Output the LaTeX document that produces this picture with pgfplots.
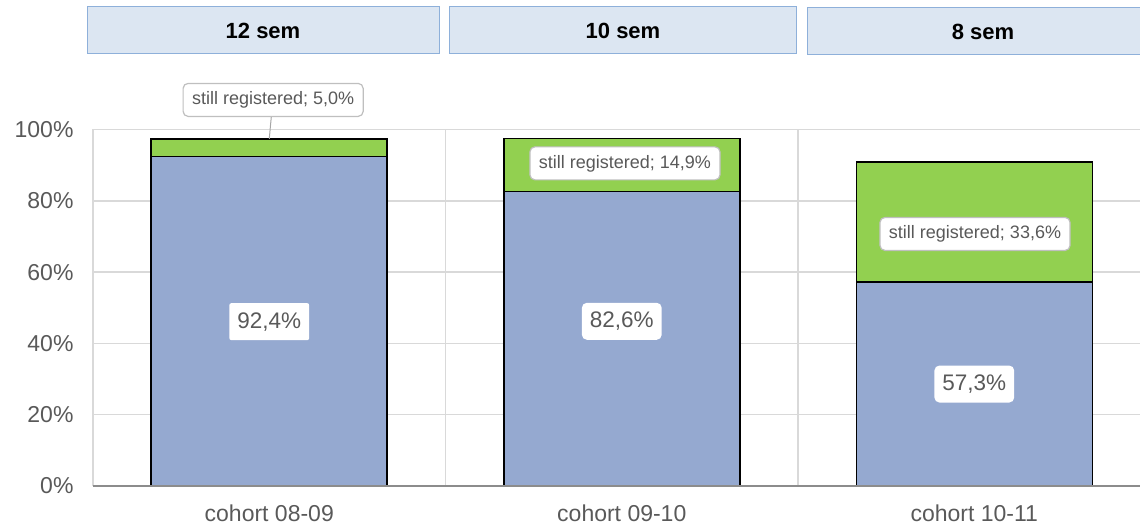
\documentclass[border=0pt]{standalone}
\usepackage{pgfplots}
\pgfplotsset{compat=1.18}
\usepackage{fontspec}
\setmainfont{Liberation Sans}
\definecolor{barblue}{HTML}{95A9D0}
\definecolor{bargreen}{HTML}{92D050}
\definecolor{hdrfill}{HTML}{DCE6F2}
\definecolor{hdrdraw}{HTML}{8EB0DA}
\definecolor{txtgray}{HTML}{595959}
\definecolor{gridgray}{HTML}{D9D9D9}
\definecolor{lblborder}{HTML}{BFBFBF}
\tikzset{vlab/.style={fill=white, rounded corners=5pt, text=txtgray, font=\fontsize{22.5}{26}\selectfont, inner xsep=8pt, minimum height=37pt},
  slab/.style={fill=white, draw=lblborder, rounded corners=5pt, line width=1.2pt, text=txtgray, font=\fontsize{18}{20}\selectfont, inner xsep=9pt, minimum height=33pt}}
\begin{document}
\begin{tikzpicture}
\begin{axis}[name=ax, scale only axis, width=1047pt, height=356.5pt,
  xmin=-0.5, xmax=2.47, ymin=0, ymax=100,
  ybar stacked, bar width=236pt,
  xtick={0,1,2}, xticklabels={cohort 08-09, cohort 09-10, cohort 10-11},
  minor xtick={-0.5,0.5,1.5}, xminorgrids,
  minor x grid style={gridgray, line width=1.5pt},
  ytick={0,20,...,100}, ymajorgrids,
  major y grid style={gridgray, line width=1.5pt},
  yticklabel={\pgfmathprintnumber{\tick}\%},
  axis line style={draw=none},
  major tick length=0pt, minor tick length=0pt,
  tick label style={font=\fontsize{23}{26}\selectfont, text=txtgray},
  yticklabel style={xshift=-16pt},
  xticklabel style={yshift=-15pt},
  /pgf/number format/assume math mode=true,
  clip=false,
]
\addplot[fill=barblue, draw=black, line width=1.6pt] coordinates {(0,92.4) (1,82.6) (2,57.3)};
\addplot[fill=bargreen, draw=black, line width=1.6pt] coordinates {(0,5.0) (1,14.9) (2,33.6)};
\coordinate (v1) at (axis cs:0,46.1);
\coordinate (v2) at (axis cs:1,46.2);
\coordinate (v3) at (axis cs:2,28.6);
\coordinate (s1) at (axis cs:0.011,108.3);
\coordinate (s2) at (axis cs:1.009,90.5);
\coordinate (s3) at (axis cs:2.002,70.7);
\coordinate (l1a) at (axis cs:0,97.4);
\coordinate (l1b) at (axis cs:0.006,103.8);
\coordinate (b0) at (axis cs:-0.5,0);
\coordinate (b1) at (axis cs:2.47,0);
\end{axis}
\draw[color=black!45, line width=1.5pt] (b0) -- (b1);
% value labels
\node[vlab, rounded corners=2pt] at (v1) {92,4\%};
\node[vlab] at (v2) {82,6\%};
\node[vlab] at (v3) {57,3\%};
% still registered labels
\draw[color=black!35, line width=1pt] (l1a) -- (l1b);
\node[slab] at (s1) {still registered; 5,0\%};
\node[slab] at (s2) {still registered; 14,9\%};
\node[slab] at (s3) {still registered; 33,6\%};
% header boxes
\draw[fill=hdrfill, draw=hdrdraw, line width=1pt] ([shift={(-6pt,75.5pt)}]ax.north west) rectangle ([shift={(346pt,122.5pt)}]ax.north west);
\draw[fill=hdrfill, draw=hdrdraw, line width=1pt] ([shift={(356pt,75.5pt)}]ax.north west) rectangle ([shift={(703pt,122.5pt)}]ax.north west);
\draw[fill=hdrfill, draw=hdrdraw, line width=1pt] ([shift={(714pt,74.5pt)}]ax.north west) rectangle ([shift={(1070pt,121.5pt)}]ax.north west);
\node[font=\bfseries\fontsize{22}{26}\selectfont] at ([shift={(170pt,99pt)}]ax.north west) {12 sem};
\node[font=\bfseries\fontsize{22}{26}\selectfont] at ([shift={(530pt,99pt)}]ax.north west) {10 sem};
\node[font=\bfseries\fontsize{22}{26}\selectfont] at ([shift={(890pt,98pt)}]ax.north west) {8 sem};
\pgfresetboundingbox
\path[use as bounding box] ([shift={(-93pt,-41pt)}]ax.south west) rectangle ([shift={(0pt,129.5pt)}]ax.north east);
\end{tikzpicture}
\end{document}
